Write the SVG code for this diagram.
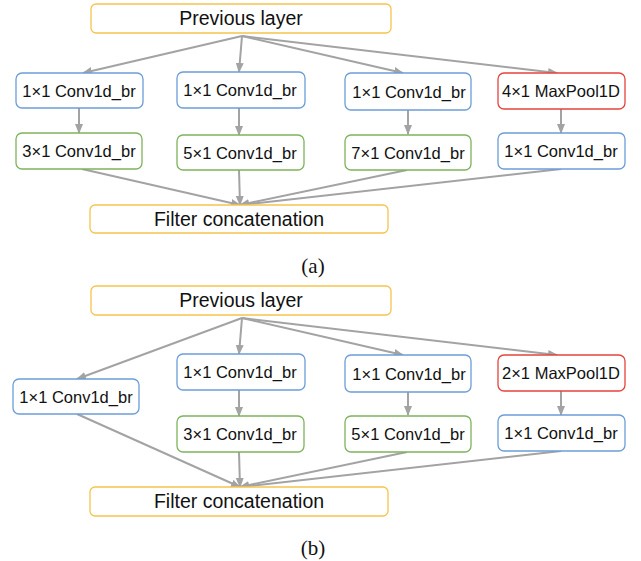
<svg xmlns="http://www.w3.org/2000/svg" width="641" height="561" viewBox="0 0 641 561">
<style>
.box{fill:#fff;stroke-width:1.3}
.y{stroke:#F6C34E}.b{stroke:#6C9DD8}.g{stroke:#7FB35C}.r{stroke:#E5443D}
.t{font-family:"Liberation Sans",Arial,sans-serif;font-size:16.5px;fill:#111;text-anchor:middle}
.big{font-size:19.5px}
.cap{font-family:"Liberation Serif","Times New Roman",serif;font-size:21px;fill:#111;text-anchor:middle}
.c{stroke:#A3A3A3;stroke-width:2;fill:none;marker-end:url(#ah)}
</style>
<defs>
<marker id="ah" markerUnits="userSpaceOnUse" markerWidth="10" markerHeight="10" viewBox="0 0 10 10" refX="9" refY="5" orient="auto">
<path d="M0,1 L10,5 L0,9 Z" fill="#A3A3A3"/>
</marker>
</defs>
<g id="connectors">
<path class="c" d="M242,36 L83,73"/>
<path class="c" d="M242,36 L239,72"/>
<path class="c" d="M242,36 L403,73"/>
<path class="c" d="M242,36 L557,73"/>
<path class="c" d="M79,108 L79,133"/>
<path class="c" d="M239,108 L239,135"/>
<path class="c" d="M408,110 L408,134"/>
<path class="c" d="M561,109 L561,133"/>
<path class="c" d="M82,169 L240,205"/>
<path class="c" d="M239,170 L240,205"/>
<path class="c" d="M407,170 L240,205"/>
<path class="c" d="M561,169 L240,205"/>
<path class="c" d="M242,318 L77,379"/>
<path class="c" d="M242,318 L239,354"/>
<path class="c" d="M242,318 L403,355"/>
<path class="c" d="M242,318 L557,355"/>
<path class="c" d="M239,390 L239,416"/>
<path class="c" d="M408,392 L408,415"/>
<path class="c" d="M561,391 L561,415"/>
<path class="c" d="M77,414 L240,487"/>
<path class="c" d="M239,452 L240,487"/>
<path class="c" d="M407,452 L240,487"/>
<path class="c" d="M561,451 L240,487"/>
</g>
<g id="a_prev"><rect class="box y" x="91" y="4" width="300" height="29" rx="5"/><text class="t big" x="241" y="25">Previous layer</text></g>
<g id="a_c1"><rect class="box b" x="16" y="73" width="127" height="35" rx="6"/><text class="t" x="79" y="96.5">1×1 Conv1d_br</text></g>
<g id="a_c2"><rect class="box b" x="177" y="72" width="128" height="36" rx="6"/><text class="t" x="240" y="96">1×1 Conv1d_br</text></g>
<g id="a_c3"><rect class="box b" x="345" y="73" width="126" height="37" rx="6"/><text class="t" x="409" y="97.5">1×1 Conv1d_br</text></g>
<g id="a_pool"><rect class="box r" x="498" y="73" width="127" height="36" rx="6"/><text class="t" x="561" y="97">4×1 MaxPool1D</text></g>
<g id="a_k3"><rect class="box g" x="16" y="133" width="126" height="36" rx="6"/><text class="t" x="79" y="157">3×1 Conv1d_br</text></g>
<g id="a_k5"><rect class="box g" x="177" y="135" width="127" height="35" rx="6"/><text class="t" x="240" y="158.5">5×1 Conv1d_br</text></g>
<g id="a_k7"><rect class="box g" x="345" y="135" width="126" height="35" rx="6"/><text class="t" x="408" y="158.5">7×1 Conv1d_br</text></g>
<g id="a_c4"><rect class="box b" x="498" y="133" width="127" height="36" rx="6"/><text class="t" x="561" y="157">1×1 Conv1d_br</text></g>
<g id="a_cat"><rect class="box y" x="90" y="205" width="298" height="28" rx="5"/><text class="t big" x="239" y="226">Filter concatenation</text></g>
<text class="cap" x="313" y="273">(a)</text>
<g id="b_prev"><rect class="box y" x="91" y="286" width="300" height="29" rx="5"/><text class="t big" x="241" y="307">Previous layer</text></g>
<g id="b_c1"><rect class="box b" x="13" y="379" width="126" height="35" rx="6"/><text class="t" x="76" y="402.5">1×1 Conv1d_br</text></g>
<g id="b_c2"><rect class="box b" x="177" y="354" width="128" height="36" rx="6"/><text class="t" x="240" y="378">1×1 Conv1d_br</text></g>
<g id="b_c3"><rect class="box b" x="345" y="355" width="126" height="37" rx="6"/><text class="t" x="409" y="379.5">1×1 Conv1d_br</text></g>
<g id="b_pool"><rect class="box r" x="498" y="355" width="127" height="36" rx="6"/><text class="t" x="561" y="379">2×1 MaxPool1D</text></g>
<g id="b_k3"><rect class="box g" x="177" y="416" width="127" height="36" rx="6"/><text class="t" x="240" y="440">3×1 Conv1d_br</text></g>
<g id="b_k5"><rect class="box g" x="345" y="416" width="126" height="36" rx="6"/><text class="t" x="408" y="440">5×1 Conv1d_br</text></g>
<g id="b_c4"><rect class="box b" x="498" y="415" width="127" height="36" rx="6"/><text class="t" x="561" y="439">1×1 Conv1d_br</text></g>
<g id="b_cat"><rect class="box y" x="90" y="487" width="298" height="29" rx="5"/><text class="t big" x="239" y="508">Filter concatenation</text></g>
<text class="cap" x="313" y="555">(b)</text>
</svg>
